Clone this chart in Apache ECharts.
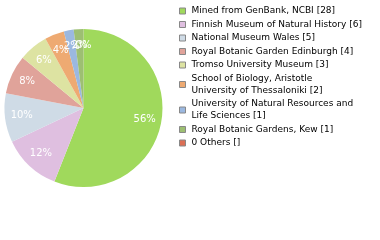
<!DOCTYPE html>
<html><head><meta charset="utf-8">
<script src="https://cdn.jsdelivr.net/npm/echarts@6/dist/echarts.min.js"></script>
<style>html,body{margin:0;padding:0;background:#fff}#c{width:380px;height:240px}</style>
</head><body><div id="c"></div>
<script>
const categories = [
  "Mined from GenBank, NCBI [28]",
  "Finnish Museum of Natural History [6]",
  "National Museum Wales [5]",
  "Royal Botanic Garden Edinburgh [4]",
  "Tromso University Museum [3]",
  "School of Biology, Aristotle\nUniversity of Thessaloniki [2]",
  "University of Natural Resources and\nLife Sciences [1]",
  "Royal Botanic Gardens, Kew [1]",
  "0 Others []"
];
const values = [28, 6, 5, 4, 3, 2, 1, 1, 0];
const colors = ["#a0d95c", "#dfbfe0", "#cfdbe6", "#e0a39a", "#dde3a2", "#eeaa72", "#9bb8e0", "#9dbf72", "#dc6f55"];

const data = categories.map((n, i) => ({ name: n, value: values[i], itemStyle: { color: colors[i] } }));
const chart = echarts.init(document.getElementById('c'), null, { renderer: 'canvas' });
const cx = 83.5, cy = 108, R = 79;
chart.setOption({
  animation: false,
  legend: {
    orient: 'vertical', left: 174, top: 0,
    itemWidth: 6, itemHeight: 6, itemGap: 1.5,
    icon: 'rect',
    itemStyle: { borderColor: '#888', borderWidth: 1 },
    textStyle: { fontFamily: 'DejaVu Sans', fontSize: 9, color: '#000', lineHeight: 12, padding: [0, 0, 0, 1] },
    data: categories
  },
  series: [
    {
      type: 'pie', center: [cx, cy], radius: [0, R], startAngle: 90, clockwise: true,
      label: { show: false }, labelLine: { show: false },
      itemStyle: { borderWidth: 0 }, emphasis: { disabled: true },
      data: data
    },
    {
      type: 'pie', center: [cx, cy], radius: [R * 0.5, R], startAngle: 90, clockwise: true, silent: true,
      legendHoverLink: false,
      itemStyle: { color: 'rgba(0,0,0,0)', borderWidth: 0 },
      label: { show: true, position: 'inside', color: '#fff', fontFamily: 'DejaVu Sans', fontSize: 10,
        formatter: p => Math.round(p.percent) + '%' },
      labelLayout: { hideOverlap: false },
      minShowLabelAngle: 0,
      labelLine: { show: false }, emphasis: { disabled: true },
      data: categories.map((n, i) => ({ name: n, value: values[i] }))
    }
  ]
});
</script></body></html>
